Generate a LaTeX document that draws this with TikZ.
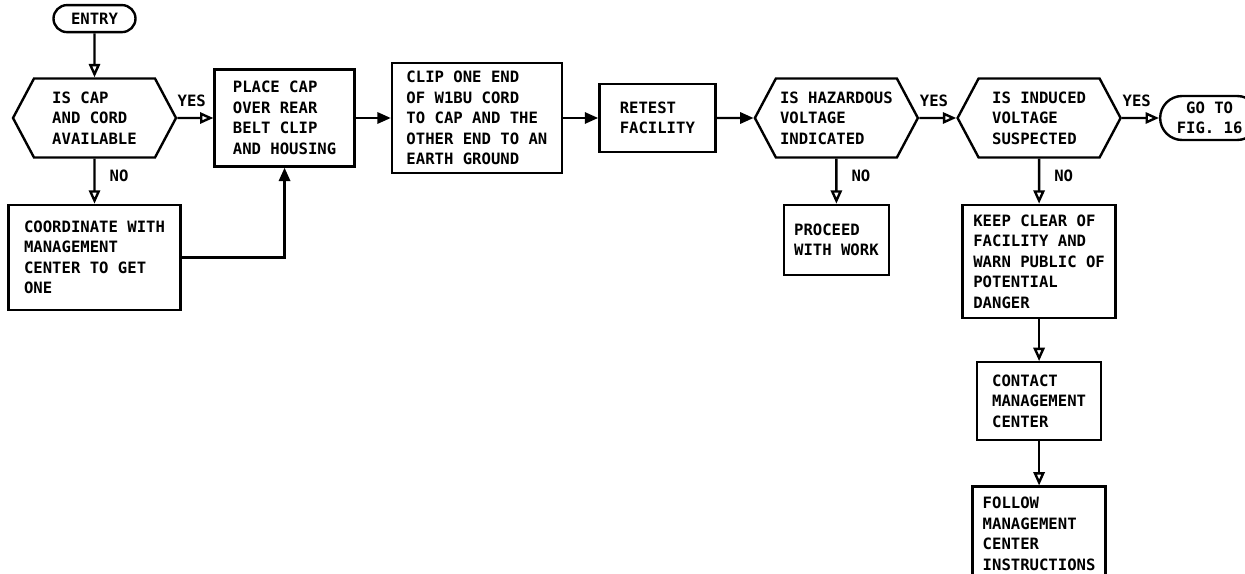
\documentclass[tikz,border=0pt]{standalone}
\usepackage{fontspec}
\setmonofont{DejaVu Sans Mono}
\usepackage{tikz}
\usetikzlibrary{positioning, arrows.meta, shapes.symbols, shapes.misc}
\newcommand{\chartfont}{\ttfamily\bfseries\fontsize{11.1}{14.6}\selectfont}
\tikzset{
    box/.style={rectangle, draw=black, line width=1.7pt, fill=white, align=left, inner sep=0pt, font=\chartfont},
    decision/.style={signal, signal to=east and west, signal pointer angle=124, draw=black, line width=1.7pt, fill=white, align=left, inner sep=0pt, minimum width=4.075cm, minimum height=1.975cm, font=\chartfont},
    term/.style={rounded rectangle, draw=black, line width=1.7pt, fill=white, align=center, inner sep=0pt, font=\chartfont},
    arrow/.style={-{Triangle[open, length=9.5pt, width=8pt]}, line width=1.7pt},
    solidarrow/.style={-{Triangle[length=9.5pt, width=8pt]}, line width=1.7pt},
    answer/.style={font=\chartfont, inner sep=0pt}
}

\begin{document}
\begin{tikzpicture}[node distance=0.9cm]
        \useasboundingbox (-2.3625,2.95) rectangle (28.7625,-11.4);

        % First check
        \node[decision] (CapCheck) {IS CAP\\AND CORD\\AVAILABLE};
        \node[term, above=1.1cm of CapCheck, minimum width=2.05cm, minimum height=0.675cm] (Entry) {ENTRY};
        \node[box, below=1.125cm of CapCheck, minimum width=4.3cm, minimum height=2.625cm] (Coord) {COORDINATE WITH\\MANAGEMENT\\CENTER TO GET\\ONE};

        % Main row
        \node[box, right=0.9cm of CapCheck, minimum width=3.5cm, minimum height=2.425cm] (PlaceCap) {PLACE CAP\\OVER REAR\\BELT CLIP\\AND HOUSING};
        \node[box, right=0.875cm of PlaceCap, minimum width=4.25cm, minimum height=2.75cm] (ClipCord) {CLIP ONE END\\OF W1BU CORD\\TO CAP AND THE\\OTHER END TO AN\\EARTH GROUND};
        \node[box, right=0.875cm of ClipCord, minimum width=2.9cm, minimum height=1.7cm] (Retest) {RETEST\\FACILITY};
        \node[decision, right=0.925cm of Retest] (HazCheck) {IS HAZARDOUS\\VOLTAGE\\INDICATED};
        \node[decision, right=0.925cm of HazCheck] (InducedCheck) {IS INDUCED\\VOLTAGE\\SUSPECTED};
        \node[term, right=0.925cm of InducedCheck, minimum width=2.475cm, minimum height=1.1cm] (GoTo) {GO TO\\FIG. 16};

        % Branches
        \node[box, below=1.125cm of HazCheck, minimum width=2.625cm, minimum height=1.75cm] (Proceed) {PROCEED\\WITH WORK};
        \node[box, below=1.125cm of InducedCheck, minimum width=3.825cm, minimum height=2.825cm] (KeepClear) {KEEP CLEAR OF\\FACILITY AND\\WARN PUBLIC OF\\POTENTIAL\\DANGER};
        \node[box, below=1.05cm of KeepClear, minimum width=3.1cm, minimum height=1.95cm] (Contact) {CONTACT\\MANAGEMENT\\CENTER};
        \node[box, below=1.1cm of Contact, minimum width=3.325cm, minimum height=2.35cm] (Follow) {FOLLOW\\MANAGEMENT\\CENTER\\INSTRUCTIONS};

        % Connections
        \draw[arrow] (Entry) -- (CapCheck);
        \draw[arrow] (CapCheck) -- node[answer, above=0.25cm, pos=0.4] {YES} (PlaceCap);
        \draw[arrow] (CapCheck) -- node[answer, right=0.35cm, pos=0.38] {NO} (Coord);
        \draw[solidarrow] (Coord) -| (PlaceCap);
        \draw[solidarrow] (PlaceCap) -- (ClipCord);
        \draw[solidarrow] (ClipCord) -- (Retest);
        \draw[solidarrow] (Retest) -- (HazCheck);
        \draw[arrow] (HazCheck) -- node[answer, above=0.25cm, pos=0.4] {YES} (InducedCheck);
        \draw[arrow] (HazCheck) -- node[answer, right=0.35cm, pos=0.38] {NO} (Proceed);
        \draw[arrow] (InducedCheck) -- node[answer, above=0.25cm, pos=0.4] {YES} (GoTo);
        \draw[arrow] (InducedCheck) -- node[answer, right=0.35cm, pos=0.38] {NO} (KeepClear);
        \draw[arrow] (KeepClear) -- (Contact);
        \draw[arrow] (Contact) -- (Follow);

    \end{tikzpicture}
\end{document}
